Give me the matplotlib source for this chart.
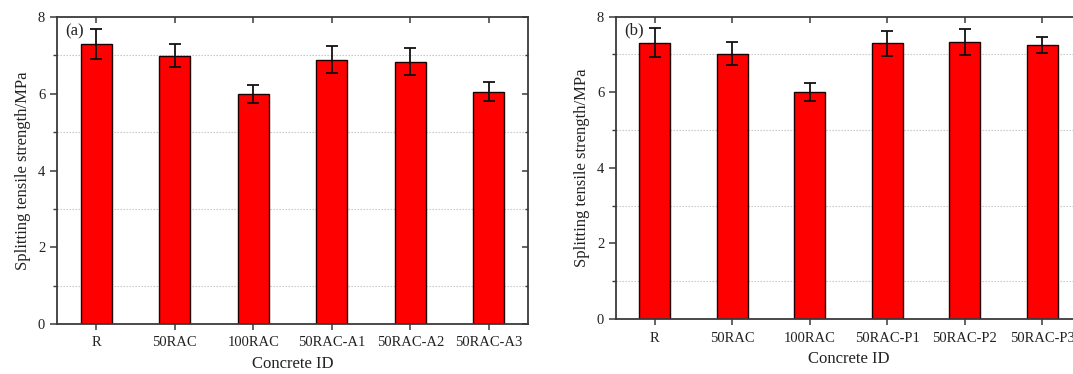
import matplotlib
matplotlib.use("Agg")
import matplotlib.pyplot as plt
from matplotlib.ticker import MultipleLocator
import numpy as np

plt.rcParams['font.family'] = ['Liberation Serif', 'DejaVu Serif']

cats_a = ["R", "50RAC", "100RAC", "50RAC-A1", "50RAC-A2", "50RAC-A3"]
vals_a = [7.29, 6.99, 5.99, 6.89, 6.84, 6.05]
errs_a = [0.39, 0.30, 0.24, 0.35, 0.35, 0.25]

cats_b = ["R", "50RAC", "100RAC", "50RAC-P1", "50RAC-P2", "50RAC-P3"]
vals_b = [7.31, 7.02, 6.01, 7.30, 7.33, 7.26]
errs_b = [0.38, 0.30, 0.24, 0.33, 0.35, 0.21]

panel_labels = ["(a)", "(b)"]
xlabel = "Concrete ID"
ylabel = "Splitting tensile strength/MPa"

W, H = 1073, 374
fig = plt.figure(figsize=(W / 100, H / 100), dpi=100)

def px_axes(x0, x1, ytop, ybot):
    return fig.add_axes([x0 / W, (H - ybot) / H, (x1 - x0) / W, (ybot - ytop) / H])

ax_a = px_axes(57, 528, 17, 324)
ax_b = px_axes(616, 1081, 16.7, 319)

spine_col = "#3a3a3a"
for ax, cats, vals, errs, lab in [(ax_a, cats_a, vals_a, errs_a, panel_labels[0]),
                                   (ax_b, cats_b, vals_b, errs_b, panel_labels[1])]:
    x = np.arange(len(cats))
    ax.set_axisbelow(True)
    ax.yaxis.set_minor_locator(MultipleLocator(1))
    ax.yaxis.set_major_locator(MultipleLocator(2))
    ax.grid(False)
    for v in [1, 3, 5, 7]:
        ax.axhline(v, color="#c0c0c0", linestyle=(0, (1.2, 1.5)), linewidth=0.8, zorder=0)
    ax.bar(x, vals, width=0.4, color="#ff0000", edgecolor="#1a0000", linewidth=1.0, zorder=2)
    ax.errorbar(x, vals, yerr=errs, fmt="none", ecolor="#111111", elinewidth=1.3,
                capsize=4.5, capthick=1.3, zorder=3)
    ax.set_xlim(-0.5, len(cats) - 0.5)
    ax.set_ylim(0, 8)
    ax.set_xticks(x)
    ax.set_xticklabels(cats, fontsize=10.5, color="#222222")
    ax.tick_params(axis="y", which="major", direction="out", length=5, width=1.1,
                   labelsize=10.5, labelcolor="#222222", color=spine_col, right=True)
    ax.tick_params(axis="y", which="minor", direction="out", length=3, width=1.0,
                   color=spine_col, right=True)
    ax.tick_params(axis="x", which="major", direction="out", length=4, width=1.1,
                   color=spine_col, pad=5, top=True)
    for sp in ax.spines.values():
        sp.set_color(spine_col)
        sp.set_linewidth(1.3)
    ax.set_xlabel(xlabel, fontsize=12, color="#222222", labelpad=5)
    ax.set_ylabel(ylabel, fontsize=12, color="#222222", labelpad=5)
    ax.text(8 / 471, 1 - 14 / 307, lab, transform=ax.transAxes, fontsize=12,
            color="#222222", ha="left", va="center")

for ax in (ax_a, ax_b):
    for t in ax.xaxis.get_major_ticks():
        t.tick2line.set_marker(3)
        t.tick2line.set_markersize(4)
    for t in ax.yaxis.get_major_ticks():
        t.tick2line.set_marker(0)
        t.tick2line.set_markersize(4)
    for t in ax.yaxis.get_minor_ticks():
        t.tick2line.set_marker(0)
        t.tick2line.set_markersize(2.5)

fig.savefig("out.png", dpi=100)
